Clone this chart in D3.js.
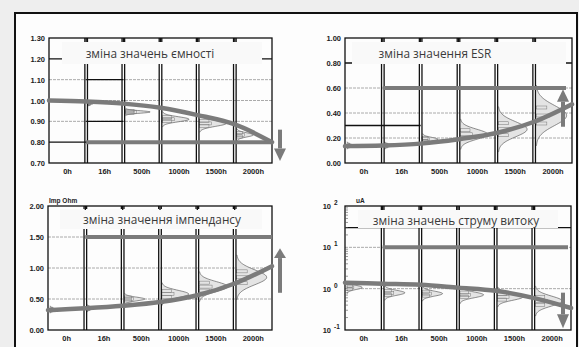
<!DOCTYPE html>
<html><head><meta charset="utf-8">
<script src="https://cdn.jsdelivr.net/npm/d3@7"></script>
<style>
html,body{margin:0;padding:0;background:#eeeeee;}
svg{display:block;}
</style></head><body>
<svg id="c" width="579" height="347"></svg>
<script>
// ---------- data ----------
const timeLabels = ["0h","16h","500h","1000h","1500h","2000h"];

const capTicks = [0.70,0.80,0.90,1.00,1.10,1.20,1.30];
const capCurve = [1.00,0.995,0.985,0.965,0.93,0.885,0.80];
const capLimit = 0.80;
const capDist = [[1,0.985,0.004,0.15],[2,0.945,0.006,0.75],[3,0.91,0.012,0.8],[4,0.89,0.014,0.8],[5,0.835,0.01,0.5]];
const capTitle = "зміна значень ємності";

const esrTicks = [0.00,0.20,0.40,0.60,0.80,1.00];
const esrCurve = [0.135,0.14,0.155,0.19,0.24,0.33,0.47];
const esrLimit = 0.60;
const esrDist = [[0,0.14,0.01,0.2],[1,0.14,0.01,0.2],[2,0.19,0.015,0.45],[3,0.23,0.04,0.8],[4,0.27,0.06,0.85],[5,0.38,0.08,0.9]];
const esrTitle = "зміна значення ESR";

const impTicks = [0.00,0.50,1.00,1.50,2.00];
const impCurve = [0.32,0.35,0.39,0.45,0.56,0.75,1.03];
const impLimit = 1.50;
const impDist = [[0,0.33,0.02,0.2],[1,0.35,0.02,0.2],[2,0.50,0.03,0.6],[3,0.58,0.06,0.8],[4,0.70,0.08,0.85],[5,0.85,0.12,0.9]];
const impTitle = "зміна значення імпендансу";

const leakExps = [-1,0,1,2];
const leakCurve = [1.4,1.32,1.25,1.06,0.89,0.6,0.34];
const leakLimit = 10;
const leakDist = [[0,0.03,0.05,0.45],[1,-0.1,0.06,0.6],[2,-0.12,0.06,0.6],[3,-0.15,0.07,0.7],[4,-0.2,0.08,0.75],[5,-0.3,0.12,0.8]];
const leakTitle = "зміна значень струму витоку";

// ---------- drawing ----------
const svg = d3.select("#c");
svg.append("rect").attr("x",15).attr("y",13).attr("width",562).attr("height",400)
  .attr("fill","#fdfdfd").attr("stroke","#111").attr("stroke-width",2);

const GRAY = "#7b7b7b";
const LBL = "Liberation Sans, Arial, sans-serif";

function panel(o){
  const g = svg.append("g");
  const x = d3.scaleLinear().domain([0,6]).range([o.left,o.right]);
  const y = o.log ? d3.scaleLog().domain(o.domain).range([o.bottom,o.top])
                  : d3.scaleLinear().domain(o.domain).range([o.bottom,o.top]);
  const colW = x(1)-x(0);

  // gridlines
  o.grid.forEach(v=>{
    g.append("line").attr("x1",o.left).attr("x2",o.right).attr("y1",y(v)).attr("y2",y(v))
      .attr("stroke","#aaaaaa").attr("stroke-width",1).attr("stroke-dasharray","3,1");
  });

  // distributions
  o.dist.forEach(([c,mu,sd,amp])=>{
    const pts = d3.range(-3,3.01,0.1).map(k=>{
      const v = o.log ? Math.pow(10,mu+k*sd) : mu+k*sd;
      return [x(c)+2 + amp*(colW-4)*Math.exp(-k*k/2), y(v)];
    });
    const area = [[x(c)+2,pts[0][1]],...pts,[x(c)+2,pts[pts.length-1][1]]];
    g.append("path").attr("d",d3.line()(area)).attr("fill","#e4e4e4").attr("stroke","#444").attr("stroke-width",0.6);
    [-1,0,1].forEach(k=>{
      const v = o.log ? Math.pow(10,mu+k*sd*0.8) : mu+k*sd*0.8;
      g.append("rect").attr("x",x(c)+2).attr("y",y(v)-1.5)
        .attr("width",amp*(colW-4)*0.45*Math.exp(-k*k/4)).attr("height",3)
        .attr("fill","none").attr("stroke","#777").attr("stroke-width",0.5);
    });
  });

  // black horizontal lines
  o.black.forEach(([v,c0,c1])=>{
    g.append("line").attr("x1",x(c0)).attr("x2",x(c1)).attr("y1",y(v)).attr("y2",y(v))
      .attr("stroke","#111").attr("stroke-width",1.3);
  });

  // dividers (double lines)
  d3.range(1,6).forEach(c=>{
    [-1.3,1.3].forEach(d=>{
      g.append("line").attr("x1",x(c)+d).attr("x2",x(c)+d).attr("y1",o.top).attr("y2",o.bottom)
        .attr("stroke","#111").attr("stroke-width",1.3);
    });
  });
  g.append("rect").attr("x",o.left).attr("y",o.top).attr("width",o.right-o.left).attr("height",o.bottom-o.top)
    .attr("fill","none").attr("stroke","#111").attr("stroke-width",1.3);

  // title box
  g.append("rect").attr("x",o.box[0]).attr("y",o.box[1]).attr("width",o.box[2]-o.box[0]).attr("height",o.box[3]-o.box[1])
    .attr("fill","#f9f9f9");
  d3.range(1,6).forEach(c=>{
    g.append("line").attr("x1",x(c)).attr("x2",x(c)).attr("y1",o.top).attr("y2",o.top+4)
      .attr("stroke","#111").attr("stroke-width",1.3);
  });
  g.append("text").attr("x",o.titlePos[0]).attr("y",o.titlePos[1]).attr("text-anchor","middle")
    .attr("font-family","Open Sans, sans-serif").attr("font-size",11.8).attr("fill","#3a3a3a").text(o.title);

  // x labels
  timeLabels.forEach((t,i)=>{
    g.append("text").attr("x",x(i+0.5)).attr("y",o.bottom+11).attr("text-anchor","middle")
      .attr("font-family",LBL).attr("font-weight","bold").attr("font-size",7.5)
      .attr("fill","#222").text(t);
  });

  // y labels
  if(o.log){
    o.ticks.forEach(e=>{
      g.append("text").attr("x",o.left-14).attr("y",y(Math.pow(10,e))+3).attr("text-anchor","end")
        .attr("font-family",LBL).attr("font-weight","bold").attr("font-size",7.5).attr("fill","#222").text("10");
      g.append("text").attr("x",o.left-11).attr("y",y(Math.pow(10,e))-1).attr("text-anchor","start")
        .attr("font-family",LBL).attr("font-weight","bold").attr("font-size",6.5).attr("fill","#222")
        .text(e<0 ? "-" + Math.abs(e) : e);
    });
    d3.range(-1,2).forEach(e=>{
      d3.range(2,10).forEach(m=>{
        const v = m*Math.pow(10,e);
        g.append("line").attr("x1",o.left).attr("x2",o.left+3).attr("y1",y(v)).attr("y2",y(v))
          .attr("stroke","#555").attr("stroke-width",0.6);
      });
    });
  } else {
    o.ticks.forEach(v=>{
      g.append("text").attr("x",o.left-4).attr("y",y(v)+3).attr("text-anchor","end")
        .attr("font-family",LBL).attr("font-weight","bold").attr("font-size",7.5)
        .attr("fill","#222").text(v.toFixed(2));
    });
  }
  if(o.unit){
    g.append("text").attr("x",o.unitPos[0]).attr("y",o.unitPos[1])
      .attr("font-family",LBL).attr("font-weight","bold").attr("font-size",6.5)
      .attr("fill","#222").text(o.unit);
  }

  // limit line
  g.append("line").attr("x1",x(1)).attr("x2",o.limitEnd).attr("y1",y(o.limit)).attr("y2",y(o.limit))
    .attr("stroke",GRAY).attr("stroke-width",4);

  // trend curve
  const line = d3.line().x((d,i)=>x(i)).y(d=>y(d)).curve(d3.curveCatmullRom);
  g.append("path").attr("d",line(o.curve)).attr("fill","none").attr("stroke",GRAY).attr("stroke-width",4.5)
    .attr("stroke-linecap","round");

  // arrow
  const [ax,v0,v1,vh] = o.arrow;
  const y0=y(v0), y1=y(v1), yh=y(vh);
  g.append("line").attr("x1",ax).attr("x2",ax).attr("y1",y0).attr("y2",yh).attr("stroke",GRAY).attr("stroke-width",4);
  g.append("path").attr("d",`M${ax-6},${yh} L${ax+6},${yh} L${ax},${y1} Z`).attr("fill",GRAY);
}

panel({left:49,right:272,top:38,bottom:163,domain:[0.70,1.30],ticks:capTicks,
  grid:[1.10,1.00,0.90],dist:capDist,black:[[1.20,0,6],[0.80,0,6],[1.10,1,2],[0.90,1,2]],
  box:[62,42,262,64],title:capTitle,titlePos:[150,58],limit:capLimit,limitEnd:272,curve:capCurve,
  arrow:[280,0.86,0.71,0.77]});

panel({left:345,right:572,top:38,bottom:163,domain:[0,1],ticks:esrTicks,
  grid:[0.60,0.40,0.20],dist:esrDist,black:[[0.80,0,6],[0.30,0,2]],
  box:[352,42,566,64],title:esrTitle,titlePos:[435,58],limit:esrLimit,limitEnd:566,curve:esrCurve,
  arrow:[563,0.29,0.59,0.49]});

panel({left:48,right:272,top:206,bottom:330,domain:[0,2],ticks:impTicks,
  grid:[1.50,1.00,0.50],dist:impDist,black:[],
  box:[60,209,262,229],title:impTitle,titlePos:[162,224],limit:impLimit,limitEnd:272,curve:impCurve,
  arrow:[280,0.6,1.32,1.16],unit:"Imp Ohm",unitPos:[49,203]});

panel({left:345,right:571,top:206,bottom:330,log:true,domain:[0.1,100],ticks:leakExps,
  grid:[10,1],dist:leakDist,black:[[30,0,6]],
  box:[358,210,558,228],title:leakTitle,titlePos:[456,225],limit:leakLimit,limitEnd:568,curve:leakCurve,
  arrow:[563,0.8,0.11,0.24],unit:"uA",unitPos:[356,203]});
</script>
</body></html>
